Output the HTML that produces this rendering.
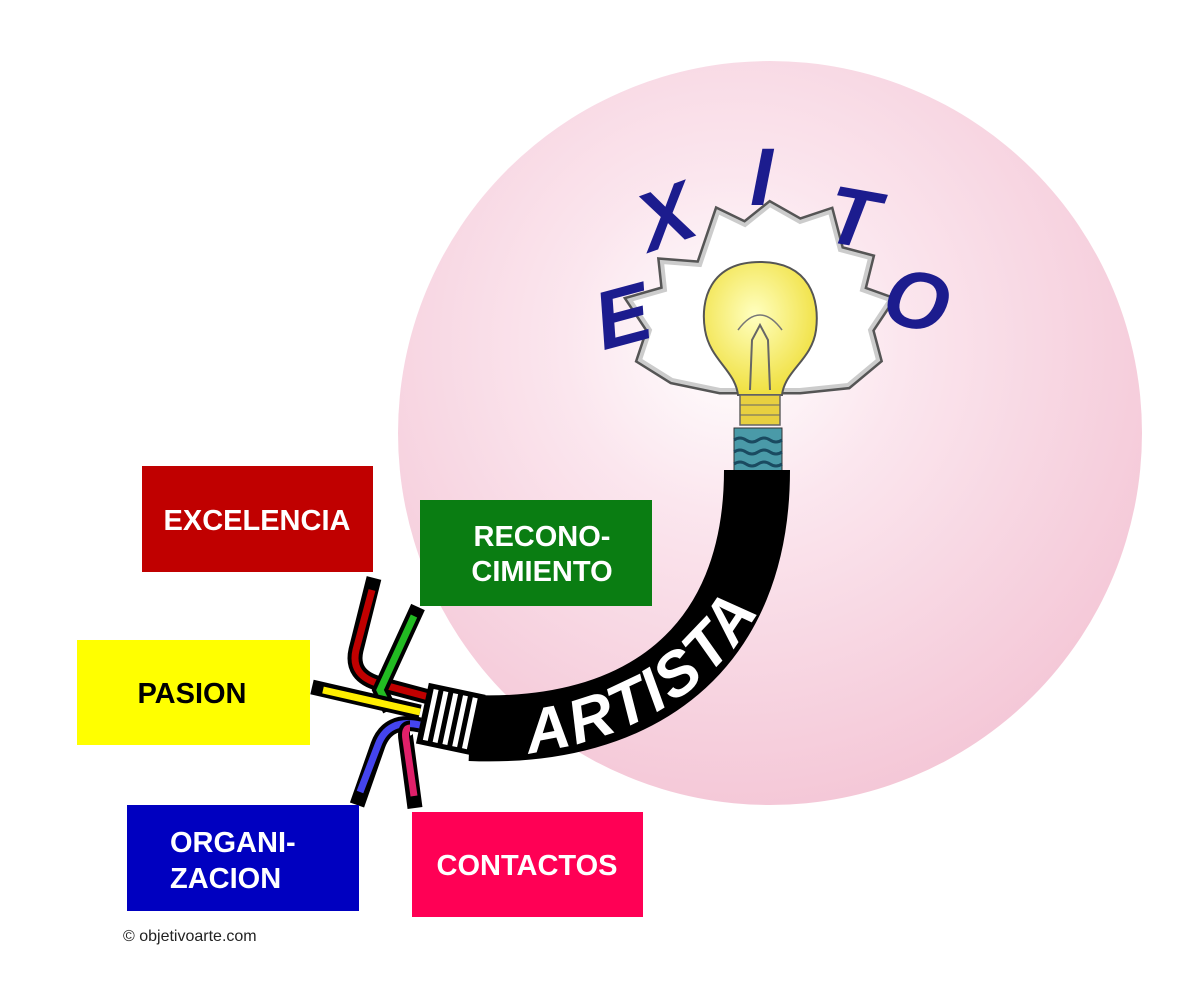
<!DOCTYPE html>
<html><head><meta charset="utf-8"><style>
html,body{margin:0;padding:0;background:#fff;}
svg{display:block;}
.bt{font-family:"Liberation Sans",sans-serif;font-weight:bold;font-size:29px;}
</style></head><body>
<svg width="1200" height="1007" viewBox="0 0 1200 1007" xmlns="http://www.w3.org/2000/svg">
<defs>
<radialGradient id="g" cx="0.45" cy="0.38" r="0.65">
<stop offset="0" stop-color="#ffffff"/>
<stop offset="0.35" stop-color="#fbe6ee"/>
<stop offset="1" stop-color="#f4c6d6"/>
</radialGradient>
<radialGradient id="bulb" cx="0.45" cy="0.4" r="0.6">
<stop offset="0" stop-color="#ffffc0"/>
<stop offset="1" stop-color="#f0e040"/>
</radialGradient>
<path id="tp" d="M470,735 C630,735 770,650 770,470"/>
</defs>
<circle cx="770" cy="433" r="372" fill="url(#g)"/>
<polygon points="700,265 718,212 745,225 770,205 800,222 830,212 840,250 870,258 862,290 890,300 870,330 878,360 848,385 800,390 720,390 672,380 640,360 650,330 630,300 665,290 662,262" fill="#fff" stroke="#555" stroke-width="9" stroke-linejoin="miter"/>
<polygon points="700,265 718,212 745,225 770,205 800,222 830,212 840,250 870,258 862,290 890,300 870,330 878,360 848,385 800,390 720,390 672,380 640,360 650,330 630,300 665,290 662,262" fill="#fff" stroke="#ccc" stroke-width="4"/>
<path d="M760,262 C710,262 700,300 705,330 C710,360 735,370 738,395 L782,395 C785,370 812,360 816,330 C820,300 810,262 760,262 Z" fill="url(#bulb)" stroke="#555" stroke-width="2"/>
<path d="M750,390 L752,340 L760,325 L768,340 L770,390" fill="none" stroke="#666" stroke-width="2"/>
<path d="M738,330 Q760,300 782,330" fill="none" stroke="#777" stroke-width="1.5"/>
<rect x="740" y="395" width="40" height="30" fill="#e8d040" stroke="#666" stroke-width="1.5"/>
<line x1="740" y1="405" x2="780" y2="405" stroke="#666"/>
<line x1="740" y1="415" x2="780" y2="415" stroke="#666"/>
<rect x="734" y="428" width="48" height="50" fill="#4a9aa8" stroke="#333"/>
<path d="M734,440 q6,-4 12,0 t12,0 t12,0 t12,0 M734,452 q6,-4 12,0 t12,0 t12,0 t12,0 M734,464 q6,-4 12,0 t12,0 t12,0 t12,0" fill="none" stroke="#1a4a60" stroke-width="3"/>
<g font-family="Liberation Sans,sans-serif" font-weight="bold" font-style="italic" font-size="82" fill="#1c1c8e">
<text x="596" y="345" transform="rotate(-15 620 320)">E</text>
<text x="638" y="245" transform="rotate(-20 665 215)">X</text>
<text x="750" y="205">I</text>
<text x="828" y="245" transform="rotate(10 850 215)">T</text>
<text x="885" y="328" transform="rotate(15 915 300)">O</text>
</g>
<path d="M757,470 C757,650 640,735 470,728" fill="none" stroke="#000" stroke-width="66"/>
<text font-family="Liberation Sans,sans-serif" font-weight="bold" font-style="italic" font-size="62" fill="#fff" dy="22"><textPath href="#tp" startOffset="55">ARTISTA</textPath></text>
<g fill="none" stroke-linecap="butt">
<path d="M374,578 L356,650 Q350,676 380,684 L440,700" stroke="#000" stroke-width="15"/>
<path d="M372,590 L356,650 Q350,676 380,684 L440,700" stroke="#c00000" stroke-width="7"/>
<path d="M418,607 L380,690 L390,710" stroke="#000" stroke-width="15"/>
<path d="M414,616 L380,690 L390,710" stroke="#22bb22" stroke-width="7"/>
<path d="M312,687 L420,712" stroke="#000" stroke-width="15"/>
<path d="M323,690 L420,712" stroke="#ffee00" stroke-width="7"/>
<path d="M357,805 L378,745 Q388,718 420,725" stroke="#000" stroke-width="15"/>
<path d="M360,792 L378,745 Q388,718 420,725" stroke="#4444ee" stroke-width="7"/>
<path d="M415,808 L406,740 Q404,728 410,728" stroke="#000" stroke-width="15"/>
<path d="M414,796 L406,740 Q404,728 410,728" stroke="#e0206a" stroke-width="7"/>
</g>
<g transform="rotate(12 450 718)">
<rect x="422" y="688" width="58" height="62" fill="#000"/>
<rect x="428" y="693" width="5" height="52" fill="#fff"/>
<rect x="438" y="693" width="5" height="52" fill="#fff"/>
<rect x="448" y="693" width="5" height="52" fill="#fff"/>
<rect x="458" y="693" width="5" height="52" fill="#fff"/>
<rect x="468" y="693" width="5" height="52" fill="#fff"/>
</g>
<rect x="142" y="466" width="231" height="106" fill="#c00000"/>
<text class="bt" x="257" y="530" fill="#fff" text-anchor="middle">EXCELENCIA</text>
<rect x="420" y="500" width="232" height="106" fill="#0a7d12"/>
<text class="bt" x="542" y="546" fill="#fff" text-anchor="middle">RECONO-</text>
<text class="bt" x="542" y="581" fill="#fff" text-anchor="middle">CIMIENTO</text>
<rect x="77" y="640" width="233" height="105" fill="#ffff00"/>
<text class="bt" x="192" y="703" fill="#000" text-anchor="middle">PASION</text>
<rect x="127" y="805" width="232" height="106" fill="#0000c0"/>
<text class="bt" x="170" y="852" fill="#fff">ORGANI-</text>
<text class="bt" x="170" y="888" fill="#fff">ZACION</text>
<rect x="412" y="812" width="231" height="105" fill="#ff0055"/>
<text class="bt" x="527" y="875" fill="#fff" text-anchor="middle">CONTACTOS</text>
<text x="123" y="941" font-family="Liberation Sans,sans-serif" font-size="16" fill="#222">© objetivoarte.com</text>
</svg>
</body></html>
